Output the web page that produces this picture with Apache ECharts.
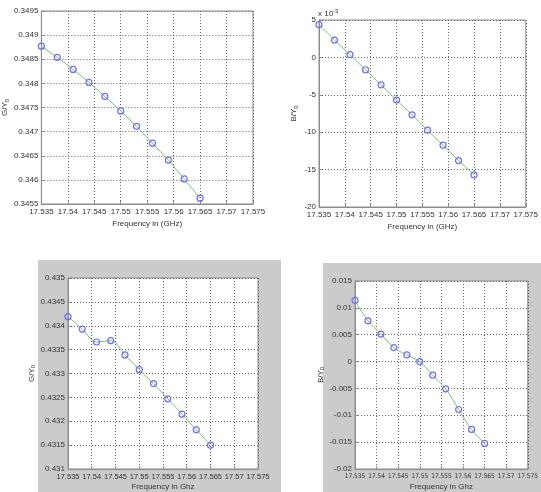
<!DOCTYPE html>
<html><head><meta charset="utf-8">
<script src="https://cdn.jsdelivr.net/npm/echarts@6/dist/echarts.min.js"></script>
<style>html,body{margin:0;padding:0;background:#fff}#c{width:541px;height:492px}</style>
</head><body><div id="c"></div>
<script>
// Frequencies (GHz) of the measured points
const freq = [17.535, 17.538, 17.541, 17.544, 17.547, 17.550, 17.553, 17.556, 17.559, 17.562, 17.565];
// Top-left: G/Y0
const gTop = [0.34877, 0.34854, 0.34829, 0.34802, 0.34773, 0.34743, 0.34711, 0.34676, 0.34641, 0.34602, 0.34562];
// Top-right: B/Y0 in units of 10^-3
const bTop = [4.38, 2.32, 0.36, -1.65, -3.66, -5.71, -7.68, -9.73, -11.74, -13.79, -15.71];
// Bottom-left: G/Y0
const gBot = [0.43419, 0.43393, 0.43366, 0.43369, 0.43339, 0.43308, 0.43279, 0.43247, 0.43215, 0.43182, 0.43150];
// Bottom-right: B/Y0
const bBot = [0.0114, 0.00759, 0.00511, 0.0026, 0.00124, 0.0, -0.00254, -0.00508, -0.00892, -0.01264, -0.01524];
// Axis ranges / tick steps
const xRange = [17.535, 17.575, 0.005];
const yRanges = [[0.3455, 0.3495, 0.0005], [-20, 5, 5], [0.431, 0.435, 0.0005], [-0.02, 0.015, 0.005]];
const xNames = ['Frequency in (GHz)', 'Frequency in (GHz)', 'Frequency in Ghz', 'Frequency in Ghz'];
const yNames = ['G/Y', 'B/Y', 'G/Y', 'B/Y'];

const chart = echarts.init(document.getElementById('c'), null, {renderer: 'canvas'});
const font = '"Liberation Sans", sans-serif';
const narrow = '"DejaVu Sans Condensed", "Liberation Sans Narrow", "Liberation Sans", sans-serif';
const grids = [
  {left: 39, top: 11, width: 214, height: 193},
  {left: 319, top: 20, width: 214, height: 187},
  {left: 68, top: 278, width: 190, height: 191},
  {left: 355, top: 281, width: 188, height: 188}
];
const nameGaps = [25, 20, 22, 23];
const xFont = [8, 8, 7.5, 6.5];
const fmt = v => String(parseFloat(v.toFixed(6)));
const seriesData = [gTop, bTop, gBot, bBot];
const xAxis = [], yAxis = [], series = [];
grids.forEach((g, i) => {
  g.show = true; g.backgroundColor = '#fff'; g.borderColor = '#8c8c8c'; g.borderWidth = 1;
  xAxis.push({
    type: 'value', gridIndex: i, min: xRange[0], max: xRange[1], interval: xRange[2],
    name: xNames[i], nameLocation: 'middle', nameGap: i < 2 ? 16 : 14,
    nameTextStyle: {fontFamily: font, fontSize: 8, color: '#333'},
    axisLine: {show: true, onZero: false, lineStyle: {color: '#8c8c8c'}},
    axisTick: {show: true, inside: true, length: 3, lineStyle: {color: '#8c8c8c'}},
    axisLabel: {fontFamily: i === 3 ? narrow : font, fontSize: xFont[i], color: '#333', margin: 4, formatter: fmt, showMaxLabel: true, showMinLabel: true, hideOverlap: false},
    splitLine: {show: true, lineStyle: {color: '#666', type: [1, 2], width: 1}}
  });
  yAxis.push({
    type: 'value', gridIndex: i, min: yRanges[i][0], max: yRanges[i][1], interval: yRanges[i][2],
    name: '{a|' + yNames[i] + '}{s|0}', nameLocation: 'middle', nameGap: nameGaps[i], nameRotate: 90,
    nameTextStyle: {rich: {a: {fontFamily: font, fontSize: 8, color: '#333'}, s: {fontFamily: font, fontSize: 6, color: '#333', verticalAlign: 'bottom', padding: [4, 0, 0, 0]}}},
    axisLine: {show: true, onZero: false, lineStyle: {color: '#8c8c8c'}},
    axisTick: {show: true, inside: true, length: 3, lineStyle: {color: '#8c8c8c'}},
    axisLabel: {fontFamily: font, fontSize: 8, color: '#333', margin: 3, formatter: fmt},
    splitLine: {show: true, lineStyle: {color: '#666', type: [1, 2], width: 1}}
  });
  series.push({
    type: 'line', xAxisIndex: i, yAxisIndex: i,
    data: freq.map((f, k) => [f, seriesData[i][k]]),
    smooth: i >= 2 ? 0.35 : false,
    symbol: 'circle', symbolSize: 6, showSymbol: true,
    lineStyle: {color: '#77c277', width: 1},
    itemStyle: {color: 'rgba(255,255,255,0)', borderColor: '#6f6ff2', borderWidth: 1.2},
    animation: false, z: 3
  });
});

chart.setOption({
  animation: false,
  graphic: [
    {type: 'rect', shape: {x: 38, y: 260, width: 243, height: 232}, style: {fill: '#cbcbcb'}, z: -10, silent: true},
    {type: 'rect', shape: {x: 323, y: 263, width: 218, height: 229}, style: {fill: '#cbcbcb'}, z: -10, silent: true},
    {type: 'text', left: 318, top: 8, style: {text: '{a|x 10}{s|-3}', rich: {a: {fontFamily: font, fontSize: 8, fill: '#333'}, s: {fontFamily: font, fontSize: 6, fill: '#333', verticalAlign: 'top', padding: [0, 0, 5, 0]}}}, z: 10}
  ],
  grid: grids, xAxis: xAxis, yAxis: yAxis, series: series
});
</script></body></html>
